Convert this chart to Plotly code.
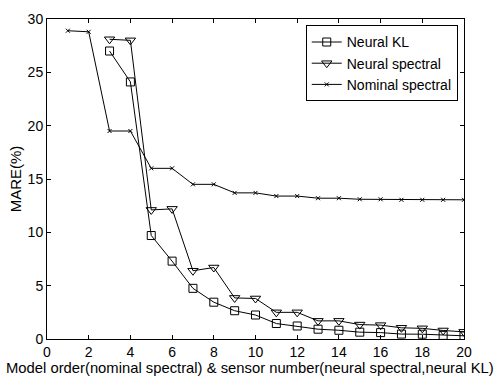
import plotly.graph_objects as go

x_nominal = list(range(1, 21))
nominal_spectral = [28.9, 28.8, 19.5, 19.5, 16.0, 16.0, 14.5, 14.5, 13.7, 13.7,
                    13.4, 13.4, 13.2, 13.2, 13.1, 13.1, 13.05, 13.05, 13.05, 13.05]
x_neural = list(range(3, 21))
neural_spectral = [28.1, 28.0, 12.1, 12.2, 6.4, 6.7, 3.85, 3.8, 2.5, 2.5,
                   1.7, 1.7, 1.35, 1.3, 1.05, 1.0, 0.8, 0.67]
neural_kl = [27.0, 24.1, 9.7, 7.3, 4.75, 3.45, 2.65, 2.25, 1.45, 1.22,
             0.92, 0.82, 0.64, 0.6, 0.46, 0.45, 0.34, 0.3]
x_title = "Model order(nominal spectral) & sensor number(neural spectral,neural KL)"

fig = go.Figure()
fig.add_trace(go.Scatter(x=x_neural, y=neural_kl, name="Neural KL", mode="lines+markers",
                         line=dict(color="black", width=1),
                         marker=dict(symbol="square-open", size=8, color="black", line=dict(width=1))))
fig.add_trace(go.Scatter(x=x_neural, y=neural_spectral, name="Neural spectral", mode="lines+markers",
                         line=dict(color="black", width=1),
                         marker=dict(symbol="triangle-down-open", size=9, color="black", line=dict(width=1))))
fig.add_trace(go.Scatter(x=x_nominal, y=nominal_spectral, name="Nominal spectral", mode="lines+markers",
                         line=dict(color="black", width=1),
                         marker=dict(symbol="x-thin-open", size=4, color="black", line=dict(width=1))))

axis_common = dict(showgrid=False, zeroline=False, showline=True, linecolor="black", linewidth=1,
                   mirror="ticks", ticks="inside", ticklen=4, tickcolor="black",
                   tickfont=dict(size=14, color="black"))
fig.update_xaxes(range=[0, 20], dtick=2, **axis_common)
fig.update_yaxes(range=[0, 30], dtick=5, **axis_common,
                 title=dict(text="MARE(%)", font=dict(size=15, color="black"), standoff=2))

fig.add_annotation(text=x_title, xref="paper", yref="paper", x=0.487, y=-0.058,
                   xanchor="center", yanchor="top", showarrow=False,
                   font=dict(size=14.8, color="black"))

fig.update_layout(
    width=499, height=381,
    margin=dict(l=47, r=35, t=11, b=42),
    plot_bgcolor="white", paper_bgcolor="white",
    font=dict(family="Liberation Sans, Arial, sans-serif", color="black"),
    legend=dict(x=0.985, y=0.98, xanchor="right", yanchor="top",
                bordercolor="black", borderwidth=1, bgcolor="white",
                font=dict(size=14), tracegroupgap=0, itemwidth=30),
)
fig.write_html("out.html")
